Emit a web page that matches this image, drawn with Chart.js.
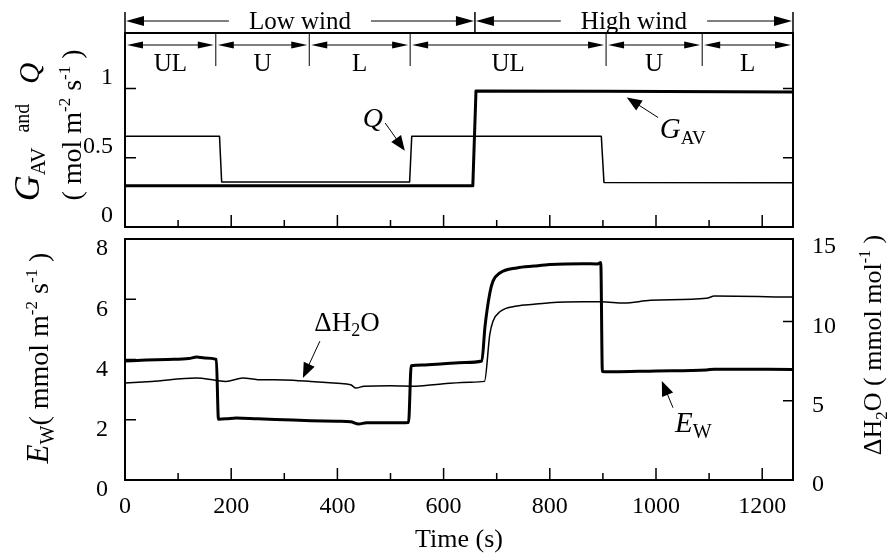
<!DOCTYPE html>
<html lang="en">
<head>
<meta charset="UTF-8">
<title>Wind treatments: G_AV, Q, E_W and ΔH2O</title>
<script src="https://cdn.jsdelivr.net/npm/chart.js"></script>
<style>
  body { margin: 0; background: #fff; }
  #wrap { position: relative; width: 888px; height: 559px; }
  #topChart { position: absolute; left: 0; top: 0; }
  #bottomChart { position: absolute; left: 0; top: 232px; }
</style>
</head>
<body>
<div id="wrap">
  <canvas id="topChart" width="888" height="240"></canvas>
  <canvas id="bottomChart" width="888" height="327"></canvas>
</div>
<script>
// ---- data (time in s) ----
const qTime = [0, 178, 182, 536, 540, 897, 902, 1258];
const qVals = [0.655, 0.655, 0.325, 0.325, 0.655, 0.655, 0.322, 0.32];

const gavTime = [0, 655, 661, 900, 1258];
const gavVals = [0.297, 0.297, 0.982, 0.98, 0.975];

const ewTime = [0, 40, 80, 120, 135, 150, 172, 176, 190, 210, 250, 300, 350, 400, 425, 440, 455, 500, 534, 539,
                560, 600, 640, 672, 678, 687, 693, 706, 738, 770, 800, 863, 890, 896, 899, 920, 1000, 1095, 1110, 1258];
const ewVals = [3.95, 3.98, 4.0, 4.03, 4.08, 4.05, 4.0, 2.02, 2.03, 2.06, 2.03, 2.0, 1.97, 1.95, 1.93, 1.86, 1.9, 1.9, 1.91, 3.79,
                3.82, 3.86, 3.9, 3.95, 5.1, 6.2, 6.6, 6.87, 7.04, 7.1, 7.15, 7.18, 7.17, 7.22, 3.6, 3.59, 3.62, 3.65, 3.68, 3.67];

const dhTime = [0, 50, 135, 170, 190, 222, 250, 300, 350, 400, 425, 435, 450, 500, 548, 600, 650, 677, 687, 693,
                706, 738, 770, 800, 863, 897, 940, 990, 1095, 1110, 1258];
const dhVals = [6.12, 6.22, 6.43, 6.29, 6.22, 6.43, 6.33, 6.31, 6.22, 6.1, 6.01, 5.8, 5.91, 5.95, 5.92, 6.07, 6.17, 6.22, 9.18, 10.02,
                10.61, 10.97, 11.08, 11.18, 11.24, 11.24, 11.16, 11.33, 11.46, 11.6, 11.54];

// treatment bands along the top
const windBounds = [0, 659, 1258];
const windLabels = ['Low wind', 'High wind'];
const segBounds = [0, 171, 347, 537, 906, 1087, 1258];
const segLabels = ['UL', 'U', 'L', 'UL', 'U', 'L'];

// axis ticks
const xMax = 1258;
const xLabelTicks = [0, 200, 400, 600, 800, 1000, 1200];
const xMinorTicks = [100, 300, 500, 700, 900, 1100];
const topTicks = [0, 0.5, 1];
const ewTicks = [0, 2, 4, 6, 8];
const dhTicks = [0, 5, 10, 15];

const SERIF = "'Liberation Serif', 'Times New Roman', serif";
const pts = (t, v) => t.map((x, i) => ({ x: x, y: v[i] }));

function fnt(size, italic) {
  return (italic ? 'italic ' : '') + size + 'px ' + SERIF;
}

// parts: [text, size, italic, dy]
function richText(ctx, parts, x, y, angle, align) {
  ctx.save();
  ctx.translate(x, y);
  ctx.rotate(angle || 0);
  ctx.textBaseline = 'alphabetic';
  ctx.textAlign = 'left';
  let total = 0;
  parts.forEach(p => { ctx.font = fnt(p[1], p[2]); p.w = ctx.measureText(p[0]).width; total += p.w; });
  let cx = align === 'left' ? 0 : -total / 2;
  parts.forEach(p => {
    ctx.font = fnt(p[1], p[2]);
    ctx.fillText(p[0], cx, p[3] || 0);
    cx += p.w;
  });
  ctx.restore();
}

function head(ctx, x, y, ang, len, half) {
  ctx.save();
  ctx.translate(x, y);
  ctx.rotate(ang);
  ctx.beginPath();
  ctx.moveTo(0, 0);
  ctx.lineTo(-len, -half);
  ctx.lineTo(-len, half);
  ctx.closePath();
  ctx.fill();
  ctx.restore();
}

function arrow(ctx, x1, y1, x2, y2) {
  const ang = Math.atan2(y2 - y1, x2 - x1);
  ctx.beginPath();
  ctx.moveTo(x1, y1);
  ctx.lineTo(x2 - Math.cos(ang) * 10, y2 - Math.sin(ang) * 10);
  ctx.lineWidth = 1;
  ctx.stroke();
  head(ctx, x2, y2, ang, 15, 6);
}

function frameAndTicks(chart, yTickSets) {
  const { ctx, chartArea: a, scales } = chart;
  ctx.save();
  ctx.strokeStyle = '#000';
  ctx.fillStyle = '#000';
  ctx.lineWidth = 2;
  ctx.strokeRect(a.left, a.top, a.right - a.left, a.bottom - a.top);
  ctx.lineWidth = 1.5;
  ctx.beginPath();
  xLabelTicks.concat(xMinorTicks).forEach(t => {
    const x = scales.x.getPixelForValue(t);
    const len = xLabelTicks.includes(t) ? 12 : 7;
    ctx.moveTo(x, a.bottom);
    ctx.lineTo(x, a.bottom - len);
  });
  yTickSets.forEach(s => {
    s.values.forEach(v => {
      const y = scales[s.axis].getPixelForValue(v);
      if (s.side === 'left') { ctx.moveTo(a.left, y); ctx.lineTo(a.left + 11, y); }
      else { ctx.moveTo(a.right, y); ctx.lineTo(a.right - 10, y); }
    });
  });
  ctx.stroke();
  ctx.restore();
}

const topDecor = {
  id: 'topDecor',
  afterDraw(chart) {
    const { ctx, chartArea: a, scales } = chart;
    const xs = scales.x, ys = scales.y;
    frameAndTicks(chart, [
      { axis: 'y', side: 'left', values: [0.5, 1] },
      { axis: 'y', side: 'right', values: [0.5, 1] }
    ]);
    ctx.save();
    ctx.fillStyle = '#000';
    ctx.strokeStyle = '#000';

    // wind bands
    const wy = a.top - 12;
    ctx.lineWidth = 1.5;
    ctx.beginPath();
    windBounds.forEach(t => {
      const x = xs.getPixelForValue(t);
      ctx.moveTo(x, a.top - 21);
      ctx.lineTo(x, a.top);
    });
    ctx.stroke();
    ctx.font = fnt(25);
    ctx.textAlign = 'center';
    ctx.textBaseline = 'middle';
    windLabels.forEach((lab, i) => {
      const x1 = xs.getPixelForValue(windBounds[i]);
      const x2 = xs.getPixelForValue(windBounds[i + 1]);
      const xm = (x1 + x2) / 2;
      const hw = ctx.measureText(lab).width / 2 + 20;
      ctx.fillText(lab, xm, wy + 1);
      ctx.lineWidth = 1;
      ctx.beginPath();
      ctx.moveTo(x1 + 10, wy); ctx.lineTo(xm - hw, wy);
      ctx.moveTo(xm + hw, wy); ctx.lineTo(x2 - 10, wy);
      ctx.stroke();
      head(ctx, x1 + 1, wy, Math.PI, 18, 5);
      head(ctx, x2 - 1, wy, 0, 18, 5);
    });

    // sub-treatment bands
    const sy = a.top + 12;
    ctx.lineWidth = 1;
    ctx.beginPath();
    segBounds.slice(1, -1).forEach(t => {
      const x = xs.getPixelForValue(t);
      ctx.moveTo(x, a.top);
      ctx.lineTo(x, a.top + 33);
    });
    ctx.stroke();
    ctx.font = fnt(25);
    segLabels.forEach((lab, i) => {
      const x1 = xs.getPixelForValue(segBounds[i]);
      const x2 = xs.getPixelForValue(segBounds[i + 1]);
      ctx.beginPath();
      ctx.moveTo(x1 + 8, sy); ctx.lineTo(x2 - 8, sy);
      ctx.stroke();
      head(ctx, x1 + 2, sy, Math.PI, 16, 3.5);
      head(ctx, x2 - 2, sy, 0, 16, 3.5);
      ctx.fillText(lab, (x1 + x2) / 2, a.top + 31);
    });

    // annotations
    arrow(ctx, xs.getPixelForValue(490), ys.getPixelForValue(0.75), xs.getPixelForValue(527), ys.getPixelForValue(0.55));
    richText(ctx, [['Q', 28, true]], xs.getPixelForValue(467), ys.getPixelForValue(0.72), 0);
    arrow(ctx, xs.getPixelForValue(1004), ys.getPixelForValue(0.79), xs.getPixelForValue(945), ys.getPixelForValue(0.935));
    richText(ctx, [['G', 29, true], ['AV', 19, false, 6]], xs.getPixelForValue(1007), ys.getPixelForValue(0.64), 0, 'left');

    // y title (two lines, rotated)
    richText(ctx, [['G', 36, true], ['AV', 21, false, 6], ['   and    ', 20, false, -10], ['Q', 29, true]], 39, 132, -Math.PI / 2);
    richText(ctx, [['( mol m', 28], ['-2', 17, false, -11], [' s', 28], ['-1', 17, false, -11], [' )', 28]], 81, 125, -Math.PI / 2);
    ctx.restore();
  }
};

const bottomDecor = {
  id: 'bottomDecor',
  afterDraw(chart) {
    const { ctx, scales } = chart;
    const xs = scales.x, ys = scales.y;
    frameAndTicks(chart, [
      { axis: 'y', side: 'left', values: [2, 4, 6] },
      { axis: 'y2', side: 'right', values: [5, 10] }
    ]);
    ctx.save();
    ctx.fillStyle = '#000';
    ctx.strokeStyle = '#000';
    arrow(ctx, xs.getPixelForValue(367), ys.getPixelForValue(4.61), xs.getPixelForValue(335), ys.getPixelForValue(3.39));
    richText(ctx, [['\u0394H', 27], ['2', 18, false, 5], ['O', 27]], xs.getPixelForValue(418), ys.getPixelForValue(4.95), 0);
    arrow(ctx, xs.getPixelForValue(1032), ys.getPixelForValue(2.4), xs.getPixelForValue(1011), ys.getPixelForValue(3.29));
    richText(ctx, [['E', 29, true], ['W', 20, false, 6]], xs.getPixelForValue(1036), ys.getPixelForValue(1.6), 0, 'left');

    richText(ctx, [['E', 31, true], ['W', 20, false, 6], ['( mmol m', 28], ['-2', 17, false, -11], [' s', 28], ['-1', 17, false, -11], [' )', 28]],
      48, 126, -Math.PI / 2);
    richText(ctx, [['\u0394H', 26], ['2', 17, false, 6], ['O ( mmol mol', 26], ['-1', 16, false, -11], [' )', 26]],
      881, 113, -Math.PI / 2);
    ctx.restore();
  }
};

const tickFont = { family: SERIF, size: 24 };
const plain = v => String(v);
// keep the plot box where it is: no extra room for overhanging tick labels
const noPad = s => { s.paddingTop = 0; s.paddingBottom = 0; s.paddingLeft = 0; s.paddingRight = 0; };
const common = {
  responsive: false,
  animation: false,
  plugins: { legend: { display: false }, tooltip: { enabled: false } },
  elements: { point: { radius: 0 }, line: { tension: 0, borderCapStyle: 'round', borderJoinStyle: 'round' } }
};

new Chart(document.getElementById('topChart'), {
  type: 'line',
  data: {
    datasets: [
      { label: 'Q', data: pts(qTime, qVals), borderColor: '#000', borderWidth: 1.5 },
      { label: 'G_AV', data: pts(gavTime, gavVals), borderColor: '#000', borderWidth: 3 }
    ]
  },
  options: Object.assign({}, common, {
    layout: { padding: { top: 33, right: 95, left: 0, bottom: 0 } },
    scales: {
      x: {
        type: 'linear', min: 0, max: xMax,
        grid: { display: false }, border: { display: false },
        ticks: { display: false },
        afterFit: s => { s.height = 13; noPad(s); }
      },
      y: {
        min: 0, max: 1.4,
        grid: { display: false }, border: { display: false },
        afterBuildTicks: s => { s.ticks = topTicks.map(v => ({ value: v })); },
        ticks: { font: tickFont, color: '#000', padding: 4, labelOffset: -11, callback: plain },
        afterFit: s => { s.width = 125; noPad(s); }
      }
    }
  }),
  plugins: [topDecor]
});

new Chart(document.getElementById('bottomChart'), {
  type: 'line',
  data: {
    datasets: [
      { label: 'E_W', data: pts(ewTime, ewVals), borderColor: '#000', borderWidth: 3, yAxisID: 'y', cubicInterpolationMode: 'monotone' },
      { label: 'dH2O', data: pts(dhTime, dhVals), borderColor: '#000', borderWidth: 1.5, yAxisID: 'y2', cubicInterpolationMode: 'monotone' }
    ]
  },
  options: Object.assign({}, common, {
    layout: { padding: { top: 7, right: 0, left: 0, bottom: 0 } },
    scales: {
      x: {
        type: 'linear', min: 0, max: xMax,
        grid: { display: false }, border: { display: false },
        afterBuildTicks: s => { s.ticks = xLabelTicks.map(v => ({ value: v })); },
        ticks: { font: tickFont, color: '#000', padding: 4, maxRotation: 0, callback: plain },
        title: { display: true, text: 'Time (s)', font: { family: SERIF, size: 26 }, color: '#000', padding: { top: 0, bottom: 3 } },
        afterFit: s => { s.height = 79; noPad(s); }
      },
      y: {
        position: 'left', min: 0, max: 8,
        grid: { display: false }, border: { display: false },
        afterBuildTicks: s => { s.ticks = ewTicks.map(v => ({ value: v })); },
        ticks: { font: tickFont, color: '#000', padding: 9, labelOffset: 10, callback: plain },
        afterFit: s => { s.width = 125; noPad(s); }
      },
      y2: {
        position: 'right', min: 0, max: 15.2,
        grid: { display: false }, border: { display: false },
        afterBuildTicks: s => { s.ticks = dhTicks.map(v => ({ value: v })); },
        ticks: { font: tickFont, color: '#000', padding: 11, labelOffset: 5, callback: plain },
        afterFit: s => { s.width = 95; noPad(s); }
      }
    }
  }),
  plugins: [bottomDecor]
});
</script>
</body>
</html>
